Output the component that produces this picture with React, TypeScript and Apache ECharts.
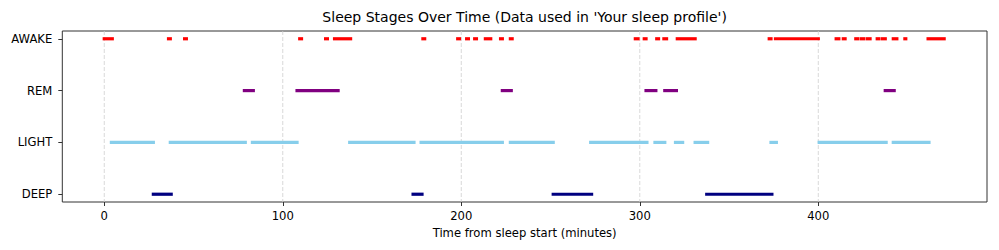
import React, { useEffect, useRef } from "react";
import * as echarts from "echarts";

const stageNames = ["DEEP", "LIGHT", "REM", "AWAKE"];
const stageColors = ["#000080", "#87ceeb", "#800080", "#ff0000"];

const deepSegments: [number, number][] = [
  [27.5, 37.5], [173, 178], [251.5, 273], [337.5, 374],
];
const lightSegments: [number, number][] = [
  [4, 27.5], [37, 79], [83, 108], [137.5, 173.5], [177.5, 223], [227.5, 251.5],
  [272.5, 304], [308.5, 314], [320, 324], [331, 338], [373.5, 376.5],
  [400.5, 438], [442, 462],
];
const remSegments: [number, number][] = [
  [78.5, 83.5], [108, 131], [223, 228], [303.5, 309], [314, 320.5], [437.5, 442.5],
];
const awakeSegments: [number, number][] = [
  [0, 4.5], [36, 37], [45, 46], [109.5, 110.5], [124, 125], [129, 138],
  [178.5, 179.5], [198, 199], [203, 204], [207.5, 208.5], [213.5, 216.5],
  [222, 223], [227.5, 228.5], [297.5, 299], [302.5, 303.5], [309.5, 310.5],
  [313.5, 315], [321, 331], [372.5, 373.5], [376, 400], [410, 411.5],
  [414, 415], [421, 422], [424, 425.5], [427.5, 429], [433, 434],
  [436, 437.5], [442, 444], [448.5, 449], [461.5, 470.5],
];

const xTicks = [0, 100, 200, 300, 400];
const yTicks = [0, 1, 2, 3];

const FONT = "DejaVu Sans";

export default function App() {
  const ref = useRef<HTMLDivElement>(null);

  useEffect(() => {
    const chart = echarts.init(ref.current!, null, { renderer: "svg" });
    const allStages = [deepSegments, lightSegments, remSegments, awakeSegments];
    const segData: number[][] = [];
    allStages.forEach((segs, idx) => {
      segs.forEach(([s, e]) => segData.push([s, e, idx]));
    });

    const option: any = {
      animation: false,
      backgroundColor: "#ffffff",
      title: {
        text: "Sleep Stages Over Time (Data used in 'Your sleep profile')",
        left: 524.6,
        textAlign: "center",
        top: 10,
        padding: 0,
        textStyle: { fontFamily: FONT, fontSize: 14, fontWeight: "normal", color: "#000" },
      },
      grid: {
        left: 62.3,
        right: 12,
        top: 31,
        bottom: 48,
        show: true,
        borderColor: "#333",
        borderWidth: 1,
        containLabel: false,
      },
      xAxis: {
        type: "value",
        min: -23.5,
        max: 494.5,
        name: "Time from sleep start (minutes)",
        nameLocation: "middle",
        nameGap: 22,
        nameTextStyle: { fontFamily: FONT, fontSize: 11.6, color: "#000" },
        axisLine: { show: false, onZero: false },
        splitLine: { show: false },
        axisTick: { show: true, length: 4, lineStyle: { color: "#333" }, customValues: xTicks },
        axisLabel: {
          customValues: xTicks,
          fontFamily: FONT,
          fontSize: 11.6,
          color: "#000",
          margin: 8,
        },
      },
      yAxis: {
        type: "value",
        min: -0.15,
        max: 3.15,
        axisLine: { show: false, onZero: false },
        splitLine: { show: false },
        axisTick: { show: true, length: 4, lineStyle: { color: "#333" }, customValues: yTicks },
        axisLabel: {
          customValues: yTicks,
          formatter: (v: number) => stageNames[Math.round(v)],
          fontFamily: FONT,
          fontSize: 11.6,
          color: "#000",
          margin: 10,
        },
      },
      series: [
        {
          type: "custom",
          name: "grid",
          silent: true,
          z: 1,
          data: xTicks.map((v) => [v, 0]),
          encode: { x: 0, y: 1 },
          renderItem: (params: any, api: any) => {
            const p = api.coord([api.value(0), 0]);
            const cs = params.coordSys;
            return {
              type: "line",
              shape: { x1: p[0], y1: cs.y, x2: p[0], y2: cs.y + cs.height },
              style: { stroke: "#cfcfcf", lineWidth: 0.8, lineDash: [4, 2] },
            };
          },
        },
        {
          type: "custom",
          name: "stages",
          z: 2,
          data: segData,
          encode: { x: [0, 1], y: 2 },
          renderItem: (params: any, api: any) => {
            const y = api.value(2);
            const s = api.coord([api.value(0), y]);
            const e = api.coord([api.value(1), y]);
            return {
              type: "line",
              shape: { x1: s[0], y1: s[1], x2: e[0], y2: e[1] },
              style: { stroke: stageColors[y], lineWidth: 3.2, lineCap: "square" },
            };
          },
        },
      ],
    };
    chart.setOption(option);
    return () => chart.dispose();
  }, []);

  return (
    <div
      ref={ref}
      style={{ position: "fixed", left: 0, top: 0, width: 999, height: 250, background: "#fff" }}
    />
  );
}
